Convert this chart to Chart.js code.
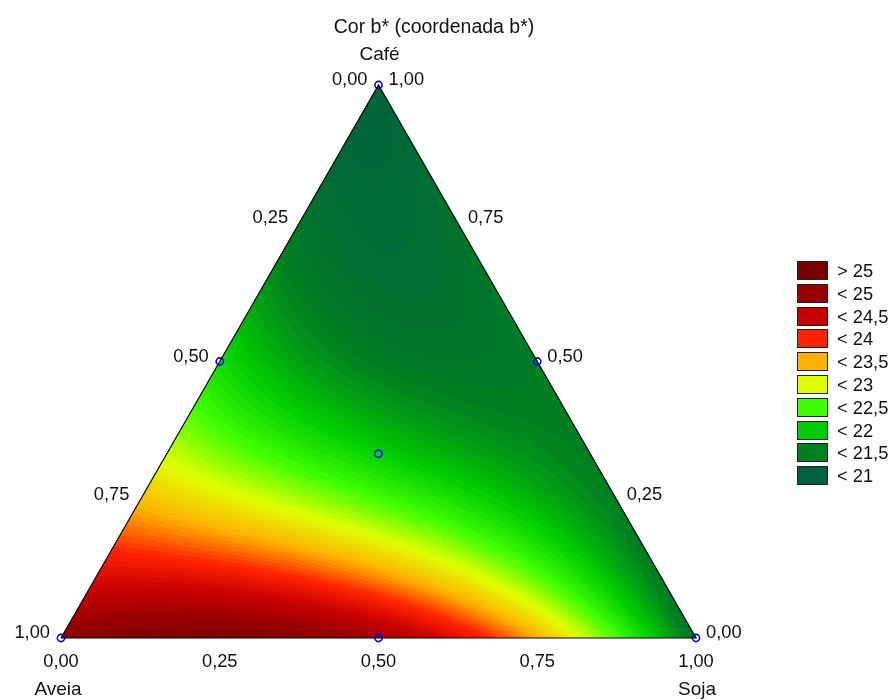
<!DOCTYPE html>
<html>
<head>
<meta charset="utf-8">
<script src="https://cdn.jsdelivr.net/npm/chart.js@4.4.1/dist/chart.umd.min.js"></script>
<style>
  html, body { margin: 0; padding: 0; background: #ffffff; }
  #wrap { width: 895px; height: 700px; }
</style>
</head>
<body>
<div id="wrap"><canvas id="chart" width="895" height="700"></canvas></div>
<script>
// Mixture components (simplex-centroid design)
const components = ['Aveia', 'Soja', 'Café'];
const designAveia = [1, 0, 0, 0.5, 0.5, 0, 1 / 3];
const designSoja  = [0, 1, 0, 0.5, 0, 0.5, 1 / 3];
const designCafe  = [0, 0, 1, 0, 0.5, 0.5, 1 / 3];
// b* response at each design point
const designB = [24.9, 21.1, 20.8, 24.6, 21.9, 21.2, 21.8];

// Contour levels (legend order) and their colours
const levelLabels = ['> 25', '< 25', '< 24,5', '< 24', '< 23,5', '< 23', '< 22,5', '< 22', '< 21,5', '< 21'];
const levelColors = ['#780000', '#980000', '#c80000', '#ff2200', '#ffb000', '#e0ff00', '#40ff00', '#00cc00', '#008020', '#006040'];
const levelUpper  = [null, 25, 24.5, 24, 23.5, 23, 22.5, 22, 21.5, 21];

// Axis tick labels along each edge
const tickValues = [0, 0.25, 0.5, 0.75, 1];
const tickLabels = ['0,00', '0,25', '0,50', '0,75', '1,00'];

const chartTitle = 'Cor b* (coordenada b*)';
const FONT = '"Liberation Sans", Arial, sans-serif';

// Scheffé special cubic model from the simplex-centroid responses
const [y1, y2, y3, y12, y13, y23, y123] = designB;
const model = {
  b1: y1, b2: y2, b3: y3,
  b12: 4 * y12 - 2 * y1 - 2 * y2,
  b13: 4 * y13 - 2 * y1 - 2 * y3,
  b23: 4 * y23 - 2 * y2 - 2 * y3,
  b123: 27 * y123 - 12 * (y12 + y13 + y23) + 3 * (y1 + y2 + y3)
};
function predict(a, s, c) {
  return model.b1 * a + model.b2 * s + model.b3 * c +
    model.b12 * a * s + model.b13 * a * c + model.b23 * s * c +
    model.b123 * a * s * c;
}

// Ternary -> cartesian (x along Soja, y along Café)
const toXY = (a, s, c) => ({ x: s + c / 2, y: c });

// Stepped palette: each legend colour sits at its band centre
function hexToRgb(h) {
  const n = parseInt(h.slice(1), 16);
  return [(n >> 16) & 255, (n >> 8) & 255, n & 255];
}
const anchors = [];
for (let i = levelColors.length - 1; i >= 0; i--) {
  const centre = levelUpper[i] === null ? 25.25 : levelUpper[i] - 0.25;
  anchors.push({ v: centre, rgb: hexToRgb(levelColors[i]) });
}
function colourFor(v) {
  const step = 0.0625;
  v = Math.floor(v / step) * step + step / 2;
  if (v <= anchors[0].v) return anchors[0].rgb;
  const last = anchors[anchors.length - 1];
  if (v >= last.v) return last.rgb;
  for (let i = 0; i < anchors.length - 1; i++) {
    const p = anchors[i], q = anchors[i + 1];
    if (v >= p.v && v <= q.v) {
      const t = (v - p.v) / (q.v - p.v);
      return [0, 1, 2].map(k => Math.round(p.rgb[k] + (q.rgb[k] - p.rgb[k]) * t));
    }
  }
  return last.rgb;
}

// Surface fill, drawn pixel by pixel through the chart scales
const surfacePlugin = {
  id: 'mixtureSurface',
  beforeDatasetsDraw(chart) {
    const { ctx, chartArea, scales } = chart;
    const xs = scales.x, ys = scales.y;
    const left = Math.floor(chartArea.left) - 1, top = Math.floor(chartArea.top) - 1;
    const w = Math.ceil(chartArea.right - chartArea.left) + 3;
    const h = Math.ceil(chartArea.bottom - chartArea.top) + 3;
    const off = document.createElement('canvas');
    off.width = w; off.height = h;
    const octx = off.getContext('2d');
    const img = octx.createImageData(w, h);
    for (let j = 0; j < h; j++) {
      const c0 = ys.getValueForPixel(top + j + 0.5);
      for (let i = 0; i < w; i++) {
        const xv = xs.getValueForPixel(left + i + 0.5);
        const c = Math.min(1, Math.max(0, c0));
        const s = Math.min(1 - c, Math.max(0, xv - c / 2));
        const a = Math.max(0, 1 - s - c);
        const rgb = colourFor(predict(a, s, c));
        const idx = (j * w + i) * 4;
        img.data[idx] = rgb[0]; img.data[idx + 1] = rgb[1]; img.data[idx + 2] = rgb[2]; img.data[idx + 3] = 255;
      }
    }
    octx.putImageData(img, 0, 0);
    const pA = toXY(1, 0, 0), pS = toXY(0, 1, 0), pC = toXY(0, 0, 1);
    ctx.save();
    ctx.beginPath();
    ctx.moveTo(xs.getPixelForValue(pA.x), ys.getPixelForValue(pA.y));
    ctx.lineTo(xs.getPixelForValue(pS.x), ys.getPixelForValue(pS.y));
    ctx.lineTo(xs.getPixelForValue(pC.x), ys.getPixelForValue(pC.y));
    ctx.closePath();
    ctx.clip();
    ctx.drawImage(off, left, top);
    ctx.restore();
  }
};

// Edge ticks, vertex names, title and legend
const labelsPlugin = {
  id: 'ternaryLabels',
  afterDraw(chart) {
    const { ctx, scales } = chart;
    const xs = scales.x, ys = scales.y;
    const px = p => xs.getPixelForValue(p.x);
    const py = p => ys.getPixelForValue(p.y);
    ctx.save();
    ctx.fillStyle = '#111111';
    ctx.textBaseline = 'middle';

    ctx.font = '18.3px ' + FONT;
    tickValues.forEach((t, k) => {
      // bottom edge: Soja fraction
      const pb = toXY(1 - t, t, 0);
      ctx.textAlign = 'center';
      ctx.fillText(tickLabels[k], px(pb), py(pb) + 23.5);
      // left edge: Aveia fraction
      const pl = toXY(t, 0, 1 - t);
      ctx.textAlign = 'right';
      ctx.fillText(tickLabels[k], px(pl) - 11, py(pl) - 5);
      // right edge: Café fraction
      const pr = toXY(0, 1 - t, t);
      ctx.textAlign = 'left';
      ctx.fillText(tickLabels[k], px(pr) + 10, py(pr) - 5);
    });

    // vertex names
    ctx.font = '19px ' + FONT;
    ctx.textAlign = 'center';
    const vA = toXY(1, 0, 0), vS = toXY(0, 1, 0), vC = toXY(0, 0, 1);
    ctx.fillText(components[0], px(vA) - 3, py(vA) + 51.5);
    ctx.fillText(components[1], px(vS) + 1, py(vS) + 51.5);
    ctx.fillText(components[2], px(vC) + 1, py(vC) - 30.5);

    // title
    ctx.font = '19.5px ' + FONT;
    ctx.fillText(chartTitle, 434, 28);

    // legend
    ctx.font = '18.3px ' + FONT;
    const bx = 797, by = 261, bw = 31, bh = 19, gap = 22.8;
    levelLabels.forEach((lab, i) => {
      const yy = Math.round(by + i * gap);
      ctx.fillStyle = levelColors[i];
      ctx.fillRect(bx, yy, bw, bh);
      ctx.strokeStyle = '#222222';
      ctx.lineWidth = 1;
      ctx.strokeRect(bx + 0.5, yy + 0.5, bw - 1, bh - 1);
      ctx.fillStyle = '#111111';
      ctx.textAlign = 'left';
      ctx.fillText(lab, 837, yy + bh / 2 + 1);
    });
    ctx.restore();
  }
};

const vertices = [toXY(1, 0, 0), toXY(0, 1, 0), toXY(0, 0, 1), toXY(1, 0, 0)];
const designPoints = designB.map((_, i) => toXY(designAveia[i], designSoja[i], designCafe[i]));

new Chart(document.getElementById('chart'), {
  type: 'scatter',
  data: {
    datasets: [
      {
        type: 'line',
        label: 'edges',
        data: vertices,
        borderColor: '#000000',
        borderWidth: 1.2,
        pointRadius: 0,
        fill: false,
        tension: 0,
        clip: false
      },
      {
        label: 'design',
        data: designPoints,
        pointStyle: 'circle',
        pointRadius: 3.6,
        pointBorderWidth: 1.6,
        borderColor: '#0000ff',
        backgroundColor: 'rgba(0,0,0,0)',
        clip: false
      }
    ]
  },
  options: {
    responsive: false,
    animation: false,
    layout: { padding: { left: 61, right: 199, top: 85, bottom: 62 } },
    scales: {
      x: { type: 'linear', min: 0, max: 1, display: false },
      y: { type: 'linear', min: 0, max: 1, display: false }
    },
    plugins: { legend: { display: false }, tooltip: { enabled: false } }
  },
  plugins: [surfacePlugin, labelsPlugin]
});
</script>
</body>
</html>
